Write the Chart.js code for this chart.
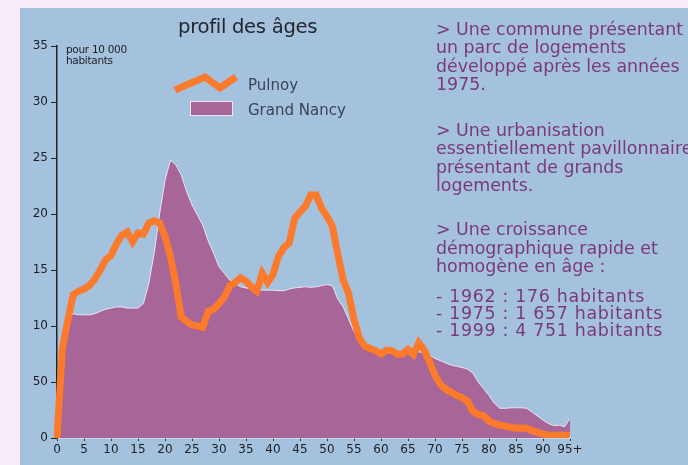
<!DOCTYPE html>
<html>
<head>
<meta charset="utf-8">
<script src="https://cdn.jsdelivr.net/npm/chart.js@4/dist/chart.umd.min.js"></script>
<style>
  html,body{margin:0;padding:0;}
  body{width:688px;height:465px;background:#f6ebf6;position:relative;overflow:hidden;font-family:"DejaVu Sans",sans-serif;}
  #panel{position:absolute;left:20px;top:8px;width:668px;height:457px;background:#a4c2de;}
  #wrap{position:absolute;left:0;top:0;width:688px;height:465px;}
  .t{position:absolute;white-space:nowrap;}
  #title{left:178px;top:15px;font-size:19.6px;color:#25262c;letter-spacing:-0.3px;}
  #unit{left:66px;top:44px;font-size:10.5px;line-height:11px;color:#1e1e22;letter-spacing:-0.3px;}
  .leg{font-size:15px;color:#3a4456;}
  #side{left:436px;top:20px;font-size:17.4px;line-height:18.3px;color:#7a3a78;letter-spacing:0px;}
  #side p{margin:0;}
</style>
</head>
<body>
<div id="panel"></div>
<div id="wrap"><canvas id="c" width="688" height="465"></canvas></div>
<div class="t" id="title">profil des âges</div>
<div class="t" id="unit">pour 10 000<br>habitants</div>
<svg style="position:absolute;left:0;top:0" width="688" height="465">
  <polyline points="175,90 205,77 220,88 236,77" fill="none" stroke="#fb7a2c" stroke-width="7"/>
  <rect x="190.5" y="101.5" width="42" height="14" fill="#a86598" stroke="#f0e6f0" stroke-width="1"/>
</svg>
<div class="t leg" style="left:248px;top:76px;">Pulnoy</div>
<div class="t leg" style="left:248px;top:101px;">Grand Nancy</div>
<div class="t" id="side">
<p>&gt; Une commune présentant<br>un parc de logements<br>développé après les années<br>1975.</p>
<p style="margin-top:28px">&gt; Une urbanisation<br>essentiellement pavillonnaire<br>présentant de grands<br>logements.</p>
<p style="margin-top:26px">&gt; Une croissance<br>démographique rapide et<br>homogène en âge :</p>
<p style="margin-top:13px;line-height:17px;letter-spacing:0.7px">- 1962 : 176 habitants<br>- 1975 : 1 657 habitants<br>- 1999 : 4 751 habitants</p>
</div>
<script>
const ages = [0,1,2,3,4,5,6,7,8,9,10,11,12,13,14,15,16,17,18,19,20,21,22,23,24,25,26,27,28,29,30,31,32,33,34,35,36,37,38,39,40,41,42,43,44,45,46,47,48,49,50,51,52,53,54,55,56,57,58,59,60,61,62,63,64,65,66,67,68,69,70,71,72,73,74,75,76,77,78,79,80,81,82,83,84,85,86,87,88,89,90,91,92,93,94,95];
const xTickLabels = ['0','5','10','15','20','25','30','35','40','45','50','55','60','65','70','75','80','85','90','95+'];
const yTickLabels = ['0','50','10','15','20','25','30','35'];
const pulnoy = [0,8.0,10.5,12.8,13.1,13.3,13.6,14.2,15.0,15.9,16.3,17.3,18.1,18.4,17.5,18.3,18.2,19.2,19.4,19.2,18.0,16.2,13.8,10.8,10.4,10.1,10.0,9.9,11.3,11.5,12.0,12.6,13.6,13.9,14.3,14.0,13.5,13.1,14.7,13.9,14.6,16.2,17.0,17.4,19.6,20.2,20.7,21.7,21.7,20.5,19.8,18.9,16.4,14.1,12.9,10.6,8.9,8.2,8.0,7.8,7.5,7.85,7.8,7.5,7.5,7.9,7.45,8.5,7.85,6.8,5.6,4.8,4.35,4.1,3.8,3.6,3.3,2.4,2.1,2.0,1.5,1.3,1.15,1.07,0.95,0.87,0.9,0.87,0.65,0.5,0.35,0.25,0.25,0.25,0.25,0.25];
const grandNancy = [0,8.0,10.5,11.1,11.0,11.0,11.0,11.1,11.3,11.5,11.6,11.7,11.7,11.6,11.6,11.6,12.0,13.8,16.5,20.0,23.0,24.8,24.4,23.5,22.0,20.8,19.9,19.0,17.6,16.5,15.3,14.7,14.1,13.8,13.5,13.4,13.3,13.2,13.2,13.2,13.2,13.15,13.15,13.3,13.4,13.45,13.5,13.45,13.5,13.6,13.7,13.6,12.4,11.7,10.6,9.5,8.7,8.2,7.9,7.7,7.5,7.6,7.6,7.4,7.4,7.6,7.6,7.7,7.6,7.4,7.1,6.9,6.7,6.5,6.4,6.3,6.15,5.8,5.0,4.4,3.8,3.1,2.65,2.65,2.7,2.7,2.7,2.65,2.3,1.95,1.6,1.3,1.1,1.15,1.0,1.75];

new Chart(document.getElementById('c'), {
  type: 'line',
  data: {
    labels: ages,
    datasets: [
      {label:'Pulnoy', data: pulnoy, borderColor:'#fb7a2c', borderWidth:7, pointRadius:0, fill:false, tension:0, borderJoinStyle:'miter'},
      {label:'Grand Nancy', data: grandNancy, borderColor:'rgba(240,235,245,0.9)', borderWidth:1, backgroundColor:'#a86598', pointRadius:0, fill:'origin', tension:0}
    ]
  },
  options: {
    responsive:false, animation:false,
    layout:{padding:{left:20,right:118,top:46,bottom:0}},
    plugins:{legend:{display:false}, tooltip:{enabled:false}},
    scales:{
      x:{
        type:'category', offset:false,
        grid:{drawOnChartArea:false, drawTicks:true, tickLength:3,
              tickColor:(ctx)=> (ctx.index%5===0 ? '#333' : 'rgba(0,0,0,0)')},
        border:{color:'#eef0f6', width:1.5},
        ticks:{autoSkip:false, maxRotation:0, padding:2, color:'#1e1e22', font:{family:'DejaVu Sans', size:12},
               callback:(v,i)=> (i%5===0 ? xTickLabels[i/5] : '')},
        afterFit:(s)=>{s.height=27;}
      },
      y:{
        min:0, max:35,
        grid:{drawOnChartArea:false, drawTicks:true, tickLength:6, tickColor:'#222'},
        border:{color:'#222', width:1.5},
        ticks:{stepSize:5, padding:3, color:'#1e1e22', font:{family:'DejaVu Sans', size:12},
               callback:(v,i)=> yTickLabels[i]},
        afterFit:(s)=>{s.width=37;}
      }
    }
  }
});
</script>
</body>
</html>
